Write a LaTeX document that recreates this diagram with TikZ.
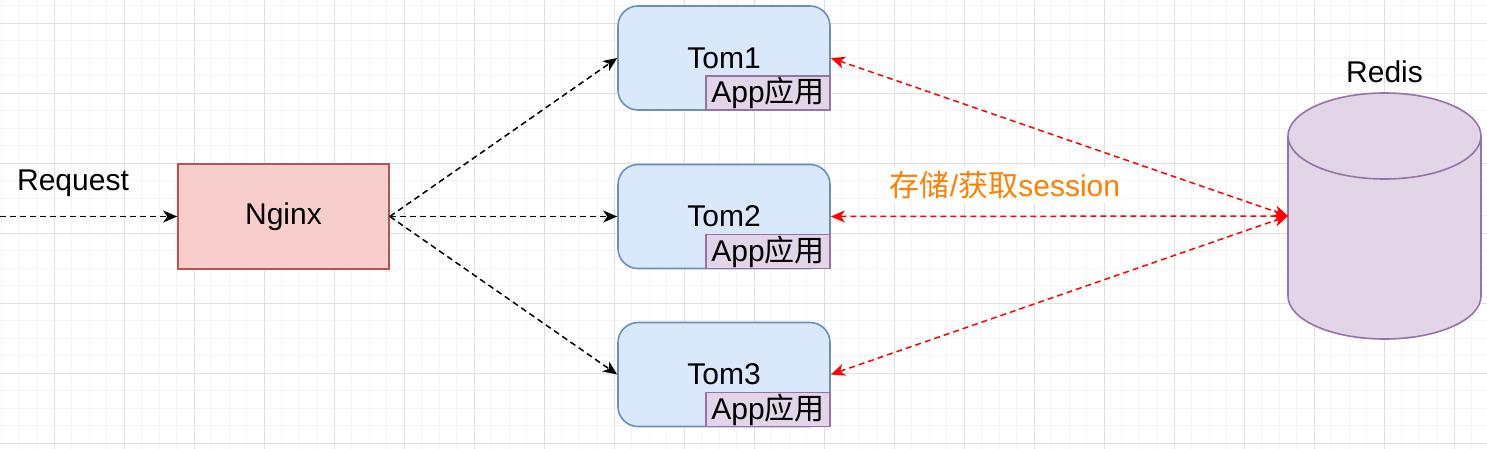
\documentclass[tikz,border=0pt]{standalone}
\usepackage{fontspec}
\setmainfont{Liberation Sans}
\newfontfamily\cjk{Noto Sans CJK SC}
\usepackage{tikz}
\usetikzlibrary{arrows.meta}

\definecolor{nginxfill}{HTML}{F8CECC}
\definecolor{nginxline}{HTML}{B85450}
\definecolor{tomfill}{HTML}{DAE8FC}
\definecolor{tomline}{HTML}{6C8EBF}
\definecolor{appfill}{HTML}{E1D5E7}
\definecolor{appline}{HTML}{9673A6}
\definecolor{labelorange}{HTML}{FF8000}
\definecolor{gridminor}{HTML}{F4F4F4}
\definecolor{gridmajor}{HTML}{E0E0E0}

\begin{document}
\begin{tikzpicture}[x=0.5pt, y=0.5pt,
		every node/.style={font=\fontsize{15}{17}\selectfont, inner sep=0pt},
		server/.style={rectangle, rounded corners=10pt, draw=tomline, fill=tomfill, line width=0.8pt,
			minimum width=106pt, minimum height=52pt},
		app/.style={rectangle, draw=appline, fill=appfill, line width=0.8pt,
			minimum width=62pt, minimum height=17pt, anchor=south east},
		proxy/.style={rectangle, draw=nginxline, fill=nginxfill, line width=0.8pt,
			minimum width=105.5pt, minimum height=52.5pt},
		flow/.style={draw=black, line width=0.75pt, dash pattern=on 3pt off 2pt,
			-{Stealth[length=7pt, width=6pt, inset=2pt]}},
		sync/.style={draw=red, line width=0.75pt, dash pattern=on 3pt off 2pt,
			{Stealth[length=7pt, width=6pt, inset=2pt]}-{Stealth[length=7pt, width=6pt, inset=2pt]}}]
	\useasboundingbox (0,0) rectangle (1487,-449);
	\fill[white] (0,0) rectangle (1487,-449);
	% background grid
	\foreach \gx in {1.8,19.3,...,1487} {\draw[gridminor, line width=0.5pt] (\gx,0) -- (\gx,-449);}
	\foreach \gy in {5.8,23.3,...,449} {\draw[gridminor, line width=0.5pt] (0,-\gy) -- (1487,-\gy);}
	\foreach \gx in {54.3,124.3,...,1487} {\draw[gridmajor, line width=0.5pt] (\gx,0) -- (\gx,-449);}
	\foreach \gy in {23.3,93.3,...,449} {\draw[gridmajor, line width=0.5pt] (0,-\gy) -- (1487,-\gy);}

	% nodes
	\node[proxy] (nginx) at (283.5,-216.5) {Nginx};
	\foreach \i/\ty in {1/-58, 2/-216.5, 3/-374.5} {
		\node[server] (tom\i) at (724,\ty) {Tom\i};
		\node[app] (app\i) at (tom\i.south east) {App{\cjk 应用}};
	}

	% redis cylinder
	\fill[appfill] (1288,-136) -- (1288,-296) arc[start angle=180, end angle=360, x radius=96.5, y radius=43]
		-- (1481,-136) arc[start angle=0, end angle=180, x radius=96.5, y radius=43] -- cycle;
	\draw[appline, line width=0.8pt] (1288,-136) -- (1288,-296) arc[start angle=180, end angle=360, x radius=96.5, y radius=43]
		-- (1481,-136);
	\draw[appline, line width=0.8pt] (1384.5,-136) ellipse[x radius=96.5, y radius=43];
	\coordinate (redis) at (1288,-216);
	\node (redislabel) at (1384.5,-72) {Redis};

	% request
	\coordinate (client) at (0,-216.5);
	\node (request) at (73,-183) {Request};
	\draw[flow] (client) -- (nginx.west);

	% load balancing
	\foreach \i in {1,2,3} {\draw[flow] (nginx.east) -- (tom\i.west);}

	% session store
	\foreach \i in {1,2,3} {\draw[sync] (tom\i.east) -- (redis);}
	\node[fill=white, inner sep=2pt, text=labelorange] (sessionlabel) at (1005,-185) {{\cjk 存储}/{\cjk 获取}session};
\end{tikzpicture}
\end{document}
